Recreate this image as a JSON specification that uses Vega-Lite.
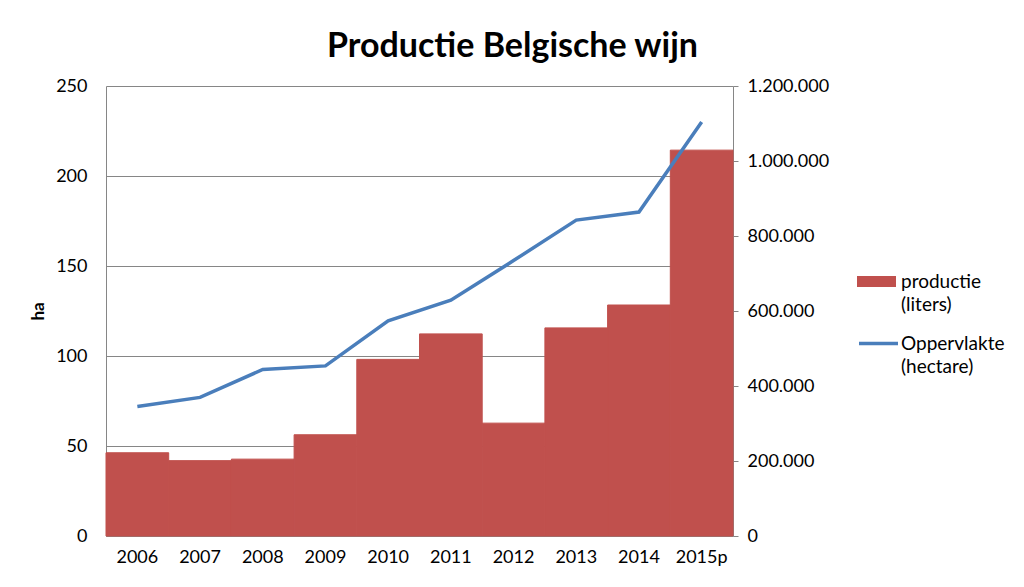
{
  "$schema": "https://vega.github.io/schema/vega-lite/v6.json",
  "width": 627,
  "height": 450,
  "autosize": "none",
  "padding": {"left": 106, "top": 86, "right": 291, "bottom": 51},
  "background": "white",
  "config": {
    "locale": {"number": {"decimal": ",", "thousands": ".", "grouping": [3], "currency": ["€", ""]}},
    "font": "Lato",
    "view": {"stroke": null},
    "style": {"guide-label": {"lineHeight": 23}}
  },
  "title": {
    "text": "Productie Belgische wijn",
    "font": "Lato",
    "fontSize": 34,
    "fontWeight": "bold",
    "color": "black",
    "anchor": "middle",
    "dx": 93,
    "offset": 13
  },
  "data": {
    "values": [
      {"jaar": "2006", "liters": 222000, "ha": 72},
      {"jaar": "2007", "liters": 201000, "ha": 77},
      {"jaar": "2008", "liters": 205000, "ha": 92.5},
      {"jaar": "2009", "liters": 270000, "ha": 94.5},
      {"jaar": "2010", "liters": 471000, "ha": 119.5},
      {"jaar": "2011", "liters": 539000, "ha": 131},
      {"jaar": "2012", "liters": 301000, "ha": 153},
      {"jaar": "2013", "liters": 555000, "ha": 175.5},
      {"jaar": "2014", "liters": 616000, "ha": 180},
      {"jaar": "2015p", "liters": 1029000, "ha": 230}
    ]
  },
  "encoding": {
    "x": {
      "field": "jaar",
      "type": "nominal",
      "sort": null,
      "scale": {"paddingInner": 0, "paddingOuter": 0},
      "axis": {
        "title": null,
        "labelAngle": 0,
        "labelFont": "Lato",
        "labelFontSize": 18,
        "labelColor": "black",
        "labelPadding": 12,
        "ticks": false,
        "domainColor": "#868686",
        "domainWidth": 1
      }
    }
  },
  "layer": [
    {
      "mark": {"type": "bar", "color": "#C0504D", "stroke": "#C0504D", "strokeWidth": 1},
      "encoding": {
        "y": {
          "field": "liters",
          "type": "quantitative",
          "scale": {"domain": [0, 1200000], "nice": false},
          "axis": {
            "orient": "right",
            "title": null,
            "values": [0, 200000, 400000, 600000, 800000, 1000000, 1200000],
            "format": ",d",
            "grid": false,
            "labelFont": "Lato",
            "labelFontSize": 18,
            "labelColor": "black",
            "labelPadding": 9,
            "tickSize": 5,
            "tickColor": "#868686",
            "domainColor": "#868686"
          }
        },
        "color": {
          "datum": "productie (liters)",
          "type": "nominal",
          "scale": {"range": ["#C0504D"]},
          "legend": {
            "title": null,
            "orient": "none",
            "legendX": 751,
            "legendY": 176,
            "padding": 0,
            "symbolType": "M-1,-0.28H1V0.28H-1Z",
            "symbolSize": 1521,
            "symbolStrokeWidth": 0,
            "labelExpr": "split(datum.label, ' ')",
            "labelFont": "Lato",
            "labelFontSize": 19,
            "labelColor": "black",
            "labelOffset": 5,
            "labelLimit": 300
          }
        }
      }
    },
    {
      "mark": {"type": "line", "strokeWidth": 3.5},
      "encoding": {
        "y": {
          "field": "ha",
          "type": "quantitative",
          "scale": {"domain": [0, 250], "nice": false},
          "axis": {
            "orient": "left",
            "title": "ha",
            "titleFont": "Lato",
            "titleFontSize": 17,
            "titleFontWeight": "bold",
            "titleColor": "black",
            "titlePadding": 8,
            "values": [0, 50, 100, 150, 200, 250],
            "grid": true,
            "gridColor": "#868686",
            "gridWidth": 1,
            "labelFont": "Lato",
            "labelFontSize": 18,
            "labelColor": "black",
            "labelPadding": 19,
            "tickSize": 0,
            "ticks": false,
            "domainColor": "#868686"
          }
        },
        "stroke": {
          "datum": "Oppervlakte (hectare)",
          "type": "nominal",
          "scale": {"range": ["#4A7EBB"]},
          "legend": {
            "title": null,
            "orient": "none",
            "legendX": 751,
            "legendY": 236,
            "padding": 0,
            "symbolType": "M-1,0H1",
            "symbolSize": 1521,
            "symbolStrokeWidth": 3.5,
            "labelExpr": "split(datum.label, ' ')",
            "labelFont": "Lato",
            "labelFontSize": 19,
            "labelColor": "black",
            "labelOffset": 1,
            "labelLimit": 300
          }
        }
      }
    }
  ],
  "resolve": {"scale": {"y": "independent"}}
}
